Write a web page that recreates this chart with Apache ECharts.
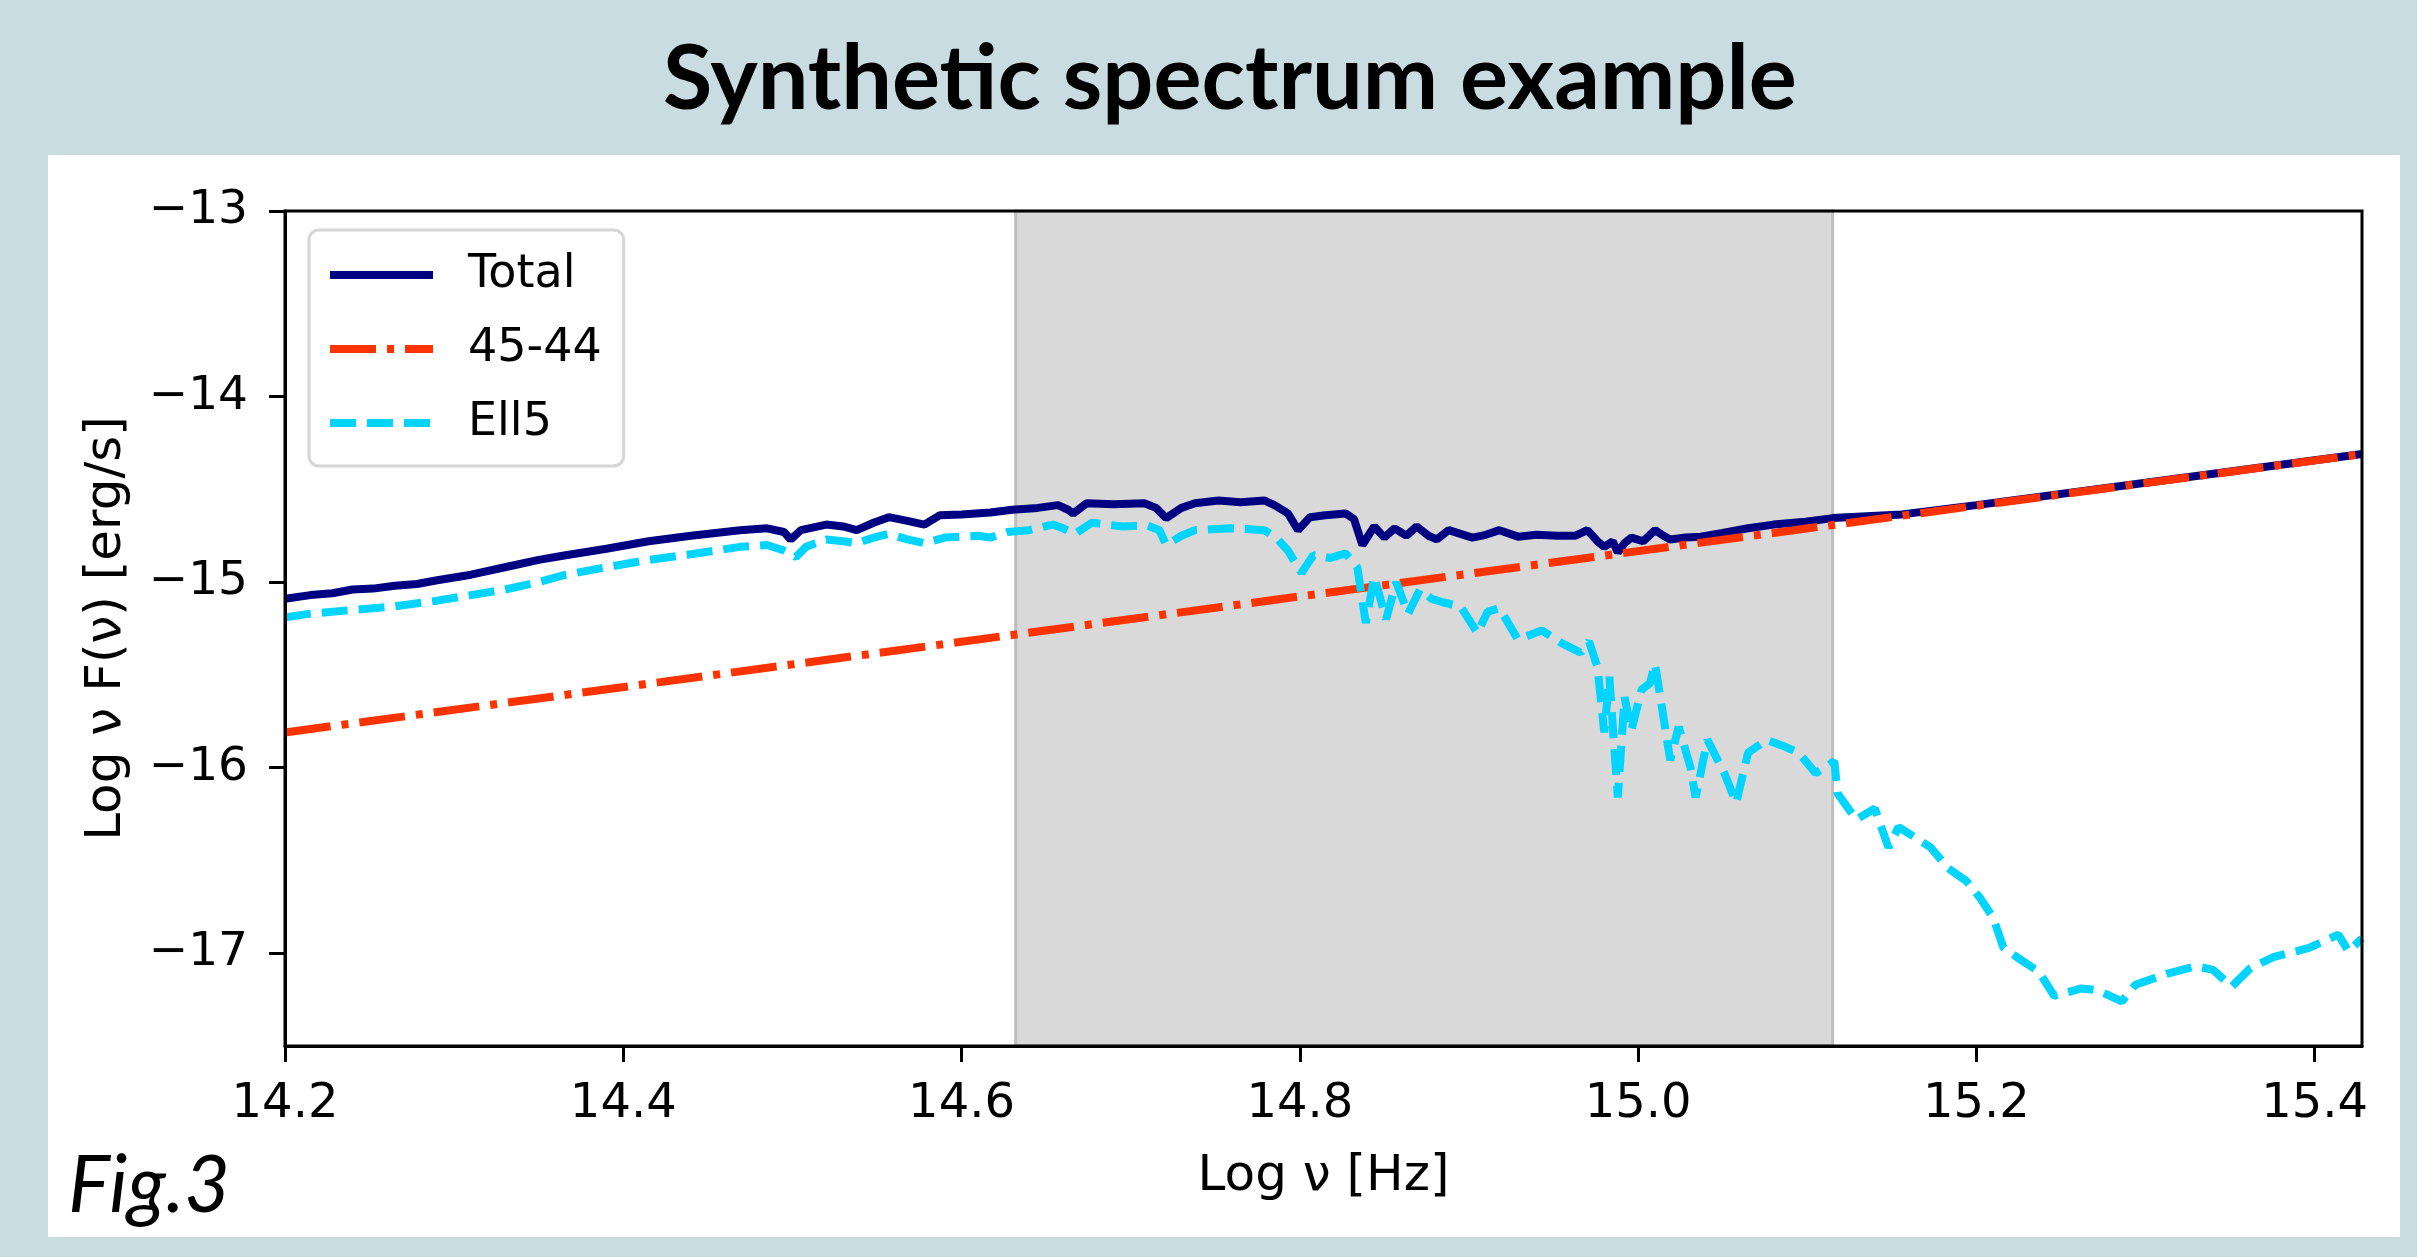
<!DOCTYPE html>
<html lang="en">
<head>
    <meta charset="UTF-8">
    <title>Synthetic spectrum example</title>
    <script type="text/javascript" src="https://cdn.jsdelivr.net/npm/echarts@6/dist/echarts.min.js"></script>
    <style>
        html, body { margin: 0; padding: 0; background: #c8dce2; }
    </style>
</head>
<body>
<div id="main" style="width: 2417px;height:1257px;"></div>
<script>

    // log nu [Hz], log nu F(nu)
    var totalData = [
        [14.200, -15.09], [14.215, -15.07], [14.228, -15.06], [14.240, -15.04], [14.252, -15.035],
        [14.265, -15.02], [14.278, -15.01], [14.290, -14.99], [14.310, -14.96], [14.330, -14.92],
        [14.350, -14.88], [14.366, -14.855], [14.390, -14.82], [14.415, -14.78], [14.440, -14.75],
        [14.469, -14.72], [14.485, -14.71], [14.495, -14.73], [14.499, -14.77], [14.505, -14.72],
        [14.520, -14.69], [14.530, -14.70], [14.538, -14.72], [14.548, -14.68], [14.557, -14.65],
        [14.568, -14.67], [14.578, -14.69], [14.587, -14.64], [14.600, -14.635], [14.617, -14.625],
        [14.630, -14.61], [14.645, -14.60], [14.657, -14.585], [14.663, -14.61], [14.666, -14.63],
        [14.674, -14.575], [14.690, -14.58], [14.708, -14.575], [14.715, -14.60], [14.721, -14.655],
        [14.730, -14.60], [14.738, -14.575], [14.752, -14.56], [14.765, -14.57], [14.779, -14.56],
        [14.785, -14.585], [14.793, -14.63], [14.799, -14.72], [14.806, -14.65], [14.815, -14.64],
        [14.827, -14.63], [14.832, -14.66], [14.837, -14.80], [14.844, -14.70], [14.850, -14.76],
        [14.856, -14.71], [14.863, -14.75], [14.869, -14.70], [14.876, -14.75], [14.881, -14.77],
        [14.888, -14.72], [14.895, -14.74], [14.902, -14.76], [14.910, -14.745], [14.918, -14.72],
        [14.929, -14.755], [14.940, -14.745], [14.952, -14.75], [14.963, -14.75], [14.970, -14.72],
        [14.976, -14.78], [14.980, -14.81], [14.985, -14.78], [14.988, -14.84], [14.992, -14.79],
        [14.996, -14.76], [15.003, -14.78], [15.010, -14.72], [15.015, -14.75], [15.019, -14.77],
        [15.028, -14.76], [15.037, -14.755], [15.050, -14.735], [15.065, -14.71], [15.080, -14.69],
        [15.099, -14.675], [15.115, -14.655], [15.135, -14.645], [15.156, -14.635], [15.200, -14.585],
        [15.300, -14.465], [15.428, -14.31]
    ];

    var powerLawData = [[14.2, -15.81], [15.428, -14.31]];

    var ell5Data = [
        [14.200, -15.19], [14.215, -15.17], [14.240, -15.15], [14.265, -15.13], [14.290, -15.10],
        [14.310, -15.07], [14.330, -15.04], [14.350, -15.00], [14.366, -14.96], [14.390, -14.92],
        [14.415, -14.88], [14.440, -14.85], [14.469, -14.81], [14.485, -14.80], [14.495, -14.83],
        [14.502, -14.865], [14.508, -14.81], [14.520, -14.77], [14.530, -14.78], [14.538, -14.79],
        [14.548, -14.76], [14.557, -14.74], [14.568, -14.77], [14.578, -14.79], [14.590, -14.76],
        [14.610, -14.75], [14.617, -14.76], [14.627, -14.73], [14.640, -14.72], [14.654, -14.69],
        [14.660, -14.71], [14.667, -14.74], [14.677, -14.68], [14.695, -14.70], [14.710, -14.695],
        [14.717, -14.72], [14.721, -14.80], [14.730, -14.75], [14.738, -14.72], [14.759, -14.71],
        [14.779, -14.72], [14.786, -14.76], [14.793, -14.83], [14.801, -14.95], [14.808, -14.855],
        [14.818, -14.87], [14.827, -14.845], [14.834, -14.92], [14.839, -15.22], [14.844, -14.97],
        [14.851, -15.20], [14.857, -15.00], [14.864, -15.17], [14.871, -15.04], [14.878, -15.09],
        [14.885, -15.11], [14.895, -15.13], [14.905, -15.275], [14.911, -15.16], [14.918, -15.14],
        [14.929, -15.31], [14.943, -15.26], [14.955, -15.33], [14.966, -15.38], [14.971, -15.32],
        [14.976, -15.46], [14.980, -15.81], [14.983, -15.51], [14.988, -16.16], [14.992, -15.62],
        [14.996, -15.80], [15.002, -15.58], [15.007, -15.545], [15.010, -15.44], [15.014, -15.67],
        [15.019, -15.96], [15.024, -15.78], [15.031, -16.00], [15.034, -16.16], [15.041, -15.85],
        [15.051, -16.03], [15.058, -16.19], [15.065, -15.92], [15.076, -15.85], [15.085, -15.88],
        [15.095, -15.92], [15.105, -16.03], [15.116, -15.965], [15.118, -16.14], [15.129, -16.28],
        [15.140, -16.22], [15.148, -16.43], [15.154, -16.32], [15.173, -16.43], [15.183, -16.54],
        [15.194, -16.61], [15.202, -16.70], [15.210, -16.81], [15.216, -16.97], [15.227, -17.04],
        [15.237, -17.10], [15.246, -17.23], [15.262, -17.19], [15.272, -17.20], [15.286, -17.26],
        [15.294, -17.17], [15.313, -17.11], [15.330, -17.07], [15.340, -17.09], [15.351, -17.18],
        [15.362, -17.08], [15.376, -17.02], [15.389, -16.99], [15.397, -16.97], [15.414, -16.90],
        [15.420, -16.99], [15.428, -16.92]
    ];

    var xTicks = [14.2, 14.4, 14.6, 14.8, 15.0, 15.2, 15.4];
    var yTicks = [-17, -16, -15, -14, -13];
    var spanRange = [14.632, 15.115];   // shaded band (2300-7000 A)

    var myChart = echarts.init(document.getElementById('main'));

    var axisFont = 'DejaVu Sans';
    var lw = 8;

    var option = {
        animation: false,
        backgroundColor: '#c8dce2',
        graphic: [
            {
                type: 'rect',
                z: -10,
                shape: {x: 48, y: 155, width: 2352, height: 1082},
                style: {fill: '#ffffff'}
            },
            {
                type: 'text',
                x: 1230,
                y: 80,
                style: {
                    text: 'Synthetic spectrum example',
                    font: 'bold 90px Lato',
                    fill: '#000',
                    align: 'center',
                    verticalAlign: 'middle'
                }
            },
            {
                type: 'text',
                x: 68,
                y: 1187,
                style: {
                    text: 'Fig.3',
                    font: 'italic 79px Lato',
                    fill: '#000',
                    align: 'left',
                    verticalAlign: 'middle'
                }
            }
        ],
        grid: {
            left: 285,
            top: 211,
            width: 2077,
            height: 835,
            show: true,
            z: 10,
            borderColor: '#000',
            borderWidth: 3,
            backgroundColor: 'transparent'
        },
        legend: {
            orient: 'vertical',
            left: 309,
            top: 230,
            data: ['Total', '45-44', 'Ell5'],
            itemWidth: 103,
            itemHeight: 20,
            itemGap: 28,
            padding: [22, 22, 20, 17],
            backgroundColor: 'rgba(255,255,255,0.8)',
            borderColor: '#d6d6d6',
            borderWidth: 3,
            borderRadius: 10,
            itemStyle: {color: 'transparent', opacity: 0, borderWidth: 0},
            lineStyle: {width: lw},
            textStyle: {
                fontFamily: axisFont,
                fontSize: 46,
                color: '#000',
                padding: [0, 0, 0, 30]
            }
        },
        xAxis: {
            type: 'value',
            min: 14.2,
            max: 15.428,
            z: 10,
            name: 'Log ν [Hz]',
            nameLocation: 'middle',
            nameGap: 106,
            nameTextStyle: {fontFamily: axisFont, fontSize: 50, color: '#000'},
            splitLine: {show: false},
            axisLine: {show: true, lineStyle: {color: '#000', width: 3}},
            axisTick: {show: true, customValues: xTicks, length: 16, lineStyle: {color: '#000', width: 3}},
            axisLabel: {
                customValues: xTicks,
                margin: 35,
                fontFamily: axisFont,
                fontSize: 48,
                color: '#000',
                formatter: function (v) { return v.toFixed(1); }
            }
        },
        yAxis: {
            type: 'value',
            min: -17.5,
            max: -13,
            z: 10,
            name: 'Log ν F(ν) [erg/s]',
            nameLocation: 'middle',
            nameGap: 153,
            nameTextStyle: {fontFamily: axisFont, fontSize: 50, color: '#000'},
            splitLine: {show: false},
            axisLine: {show: true, lineStyle: {color: '#000', width: 3}},
            axisTick: {show: true, customValues: yTicks, length: 16, lineStyle: {color: '#000', width: 3}},
            axisLabel: {
                customValues: yTicks,
                margin: 37,
                fontFamily: axisFont,
                fontSize: 47,
                color: '#000',
                formatter: function (v) { return (v < 0 ? '\u2212' : '') + Math.abs(v); }
            }
        },
        series: [
            {
                name: 'band',
                type: 'line',
                data: [],
                z: 1,
                silent: true,
                markArea: {
                    silent: true,
                    itemStyle: {color: '#d9d9d9', borderColor: '#bebebe', borderWidth: 3},
                    data: [[{xAxis: spanRange[0]}, {xAxis: spanRange[1]}]]
                }
            },
            {
                name: 'Total',
                type: 'line',
                data: totalData,
                z: 3,
                symbol: 'none',
                color: '#000080',
                lineStyle: {color: '#000080', width: lw, type: 'solid'}
            },
            {
                name: '45-44',
                type: 'line',
                data: powerLawData,
                z: 4,
                symbol: 'none',
                color: '#ff3300',
                lineStyle: {color: '#ff3300', width: lw, type: [46, 11, 7, 11], cap: 'butt'}
            },
            {
                name: 'Ell5',
                type: 'line',
                data: ell5Data,
                z: 5,
                symbol: 'none',
                color: '#00d4ff',
                lineStyle: {color: '#00d4ff', width: lw, type: [26, 11], cap: 'butt'}
            }
        ]
    };

    myChart.setOption(option);

</script>
</body>
</html>
